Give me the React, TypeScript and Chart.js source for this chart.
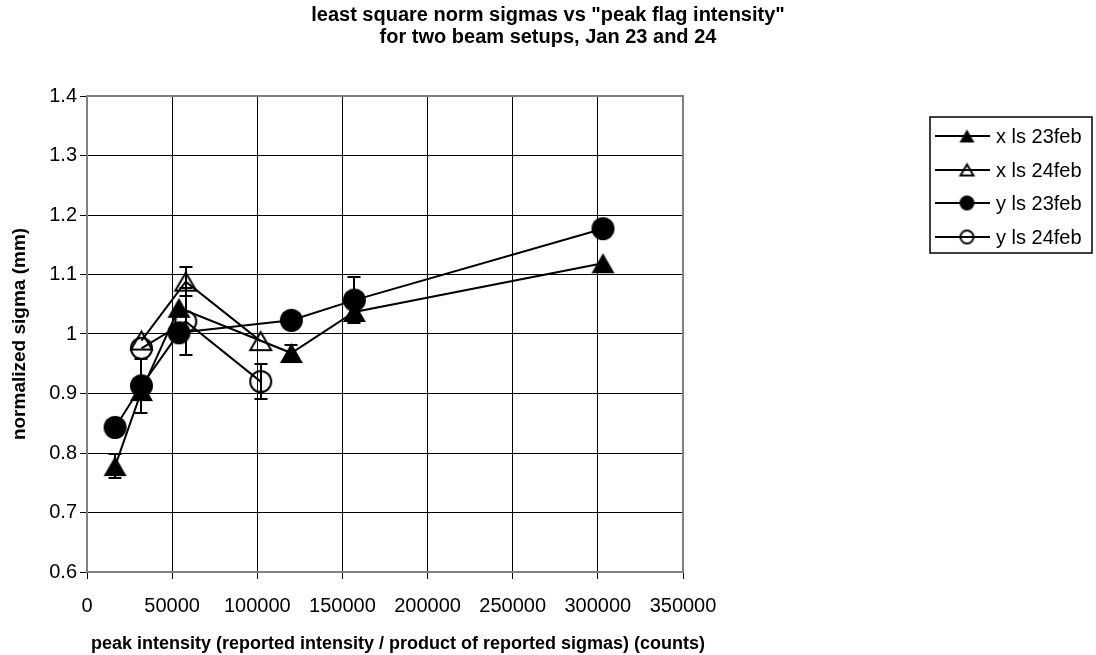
import React, { useEffect, useRef } from 'react';
import { Chart, registerables } from 'chart.js';
Chart.register(...registerables);

const FONT = '"Liberation Sans", Arial, Helvetica, sans-serif';

const titleLines = ['least square norm sigmas vs "peak flag intensity"', 'for two beam setups, Jan 23 and 24'];
const xAxisTitle = 'peak intensity (reported intensity / product of reported sigmas) (counts)';
const yAxisTitle = 'normalized sigma (mm)';

const xTickLabels = ['0', '50000', '100000', '150000', '200000', '250000', '300000', '350000'];
const yTickLabels = ['0.6', '0.7', '0.8', '0.9', '1', '1.1', '1.2', '1.3', '1.4'];

const seriesLabels = ['x ls 23feb', 'x ls 24feb', 'y ls 23feb', 'y ls 24feb'];

// Jan 23 setup
const x23 = [16500, 32000, 54000, 120000, 157000, 303000];
const xls23 = [0.778, 0.904, 1.044, 0.968, 1.037, 1.119];
const xls23Err = [0.02, 0, 0, 0.014, 0, 0];
const yls23 = [0.843, 0.913, 1.002, 1.023, 1.057, 1.177];
const yls23Err = [0, 0.045, 0, 0, 0.038, 0];

// Jan 24 setup
const x24 = [32000, 58000, 102000];
const xls24 = [0.989, 1.088, 0.988];
const xls24Err = [0, 0.024, 0];
const yls24 = [0.976, 1.021, 0.92];
const yls24Err = [0, 0.057, 0.029];

function makeMarker(kind: 'tri' | 'circle', filled: boolean, w: number): HTMLCanvasElement {
  const c = document.createElement('canvas');
  const h = kind === 'tri' ? w * 0.87 : w;
  c.width = Math.round(w + 6);
  c.height = Math.round(h + 6);
  const ctx = c.getContext('2d')!;
  const cx = c.width / 2;
  const cy = c.height / 2;
  const pw = filled ? w : w - 2;
  const ph = filled ? h : h - 2;
  ctx.beginPath();
  if (kind === 'tri') {
    ctx.moveTo(cx, cy - ph / 2);
    ctx.lineTo(cx + pw / 2, cy + ph / 2);
    ctx.lineTo(cx - pw / 2, cy + ph / 2);
    ctx.closePath();
  } else {
    ctx.arc(cx, cy, pw / 2, 0, Math.PI * 2);
  }
  if (filled) {
    ctx.fillStyle = '#000';
    ctx.fill();
  } else {
    ctx.lineWidth = 2;
    ctx.strokeStyle = '#000';
    ctx.lineJoin = 'miter';
    ctx.stroke();
  }
  return c;
}

export default function App() {
  const ref = useRef<HTMLCanvasElement>(null);

  useEffect(() => {
    const canvas = ref.current!;
    const markers = [
      makeMarker('tri', true, 23),
      makeMarker('tri', false, 23),
      makeMarker('circle', true, 23),
      makeMarker('circle', false, 23),
    ];
    const legendMarkers = [
      makeMarker('tri', true, 15),
      makeMarker('tri', false, 15),
      makeMarker('circle', true, 15),
      makeMarker('circle', false, 15),
    ];
    const xs = [x23, x24, x23, x24];
    const ys = [xls23, xls24, yls23, yls24];
    const errs = [xls23Err, xls24Err, yls23Err, yls24Err];

    const datasets = seriesLabels.map((label, i) => ({
      label,
      data: xs[i].map((x, j) => ({ x, y: ys[i][j] })),
      showLine: true,
      borderColor: '#000',
      borderWidth: 2,
      backgroundColor: '#000',
      pointStyle: markers[i] as any,
      pointRadius: 10,
      tension: 0,
    }));

    const custom = {
      id: 'custom',
      beforeDatasetsDraw(chart: any) {
        const { ctx, chartArea: a } = chart;
        ctx.save();
        ctx.strokeStyle = '#808080';
        ctx.lineWidth = 2;
        ctx.strokeRect(a.left, a.top, a.right - a.left, a.bottom - a.top);
        ctx.restore();
      },
      afterDatasetsDraw(chart: any) {
        const { ctx } = chart;
        const xS = chart.scales.x;
        const yS = chart.scales.y;
        ctx.save();
        ctx.strokeStyle = '#000';
        ctx.lineWidth = 2;
        errs.forEach((arr, i) => {
          arr.forEach((e, j) => {
            if (!e) return;
            const px = Math.round(xS.getPixelForValue(xs[i][j]));
            const top = yS.getPixelForValue(ys[i][j] + e);
            const bot = yS.getPixelForValue(ys[i][j] - e);
            ctx.beginPath();
            ctx.moveTo(px, top);
            ctx.lineTo(px, bot);
            ctx.moveTo(px - 6.5, Math.round(top));
            ctx.lineTo(px + 6.5, Math.round(top));
            ctx.moveTo(px - 6.5, Math.round(bot));
            ctx.lineTo(px + 6.5, Math.round(bot));
            ctx.stroke();
          });
        });
        ctx.restore();
      },
      afterDraw(chart: any) {
        const { ctx } = chart;
        ctx.save();
        ctx.fillStyle = '#000';
        // title
        ctx.font = `bold 20px ${FONT}`;
        ctx.textAlign = 'center';
        ctx.textBaseline = 'alphabetic';
        ctx.fillText(titleLines[0], 548, 21);
        ctx.fillText(titleLines[1], 548, 43);
        // x axis title
        ctx.font = `bold 18px ${FONT}`;
        ctx.fillText(xAxisTitle, 398, 649);
        // y axis title
        ctx.save();
        ctx.font = `bold 19px ${FONT}`;
        ctx.translate(25, 334);
        ctx.rotate(-Math.PI / 2);
        ctx.fillText(yAxisTitle, 0, 0);
        ctx.restore();
        // legend
        const lx = 930, ly = 117, lw = 162, lh = 136;
        ctx.fillStyle = '#fff';
        ctx.fillRect(lx, ly, lw, lh);
        ctx.strokeStyle = '#000';
        ctx.lineWidth = 1.5;
        ctx.strokeRect(lx, ly, lw, lh);
        const rows = [136, 169.5, 203, 236.5];
        ctx.font = `20px ${FONT}`;
        ctx.textAlign = 'left';
        ctx.textBaseline = 'middle';
        seriesLabels.forEach((label, i) => {
          const y = Math.round(rows[i]);
          ctx.strokeStyle = '#000';
          ctx.lineWidth = 2;
          ctx.beginPath();
          ctx.moveTo(935, y);
          ctx.lineTo(990, y);
          ctx.stroke();
          const m = legendMarkers[i];
          ctx.drawImage(m, 967 - m.width / 2, y - m.height / 2);
          ctx.fillStyle = '#000';
          ctx.fillText(label, 996, y + 1);
        });
        ctx.restore();
      },
    };

    const chart = new Chart(canvas, {
      type: 'scatter',
      data: { datasets },
      options: {
        responsive: false,
        animation: false,
        devicePixelRatio: 1,
        events: [],
        layout: { padding: { left: 0, top: 96, right: 413, bottom: 0 } },
        plugins: {
          legend: { display: false },
          title: { display: false },
          tooltip: { enabled: false },
        },
        scales: {
          x: {
            type: 'linear',
            min: 0,
            max: 350000,
            afterFit: (s: any) => { s.height = 83; },
            ticks: {
              stepSize: 50000,
              autoSkip: false,
              maxRotation: 0,
              padding: 15,
              color: '#000',
              font: { size: 20, family: FONT },
              callback: (v: any, i: number) => xTickLabels[i] ?? String(v),
            },
            grid: { color: '#000', lineWidth: 1, tickLength: 7, tickColor: '#000' },
            border: { display: false },
          },
          y: {
            type: 'linear',
            min: 0.6,
            max: 1.4,
            afterFit: (s: any) => { s.width = 87; },
            ticks: {
              stepSize: 0.1,
              autoSkip: false,
              padding: 3,
              color: '#000',
              font: { size: 20, family: FONT },
              callback: (v: any, i: number) => yTickLabels[i] ?? String(v),
            },
            grid: { color: '#000', lineWidth: 1, tickLength: 7, tickColor: '#000' },
            border: { display: false },
          },
        },
      },
      plugins: [custom],
    } as any);

    return () => chart.destroy();
  }, []);

  return (
    <div style={{ position: 'fixed', left: 0, top: 0, width: 1096, height: 655, background: '#fff' }}>
      <canvas ref={ref} width={1096} height={655} style={{ display: 'block', width: 1096, height: 655 }} />
    </div>
  );
}
